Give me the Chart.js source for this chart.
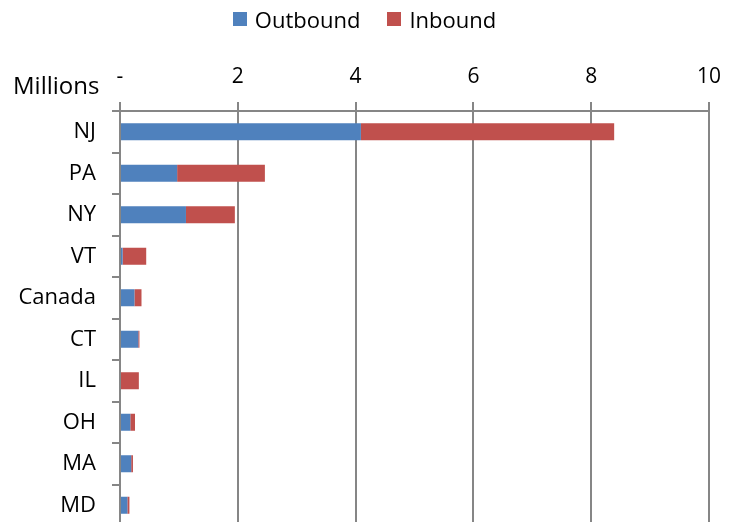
<!DOCTYPE html>
<html>
<head>
<meta charset="utf-8">
<script src="https://cdn.jsdelivr.net/npm/chart.js@4"></script>
<style>
  html, body { margin: 0; padding: 0; background: #fff; overflow: hidden; width: 729px; height: 522px; }
  #wrap { position: relative; width: 729px; height: 530px; }
  #legend { position: absolute; top: 4px; left: 0; width: 729px; display: flex; justify-content: center; gap: 27px;
            font-family: "Open Sans", sans-serif; font-size: 22px; line-height: 30px; color: #000; }
  .item { display: flex; align-items: center; gap: 8px; }
  .box { width: 14px; height: 14px; display: inline-block; }
</style>
</head>
<body>
<div id="wrap">
  <canvas id="c" width="729" height="530"></canvas>
  <div id="legend"></div>
</div>
<script>
const categories = ["NJ", "PA", "NY", "VT", "Canada", "CT", "IL", "OH", "MA", "MD"];
const outbound = [4.09, 0.97, 1.12, 0.045, 0.245, 0.31, 0.0, 0.175, 0.19, 0.125];
const inbound = [4.30, 1.49, 0.83, 0.40, 0.12, 0.02, 0.32, 0.08, 0.03, 0.035];
const seriesNames = ["Outbound", "Inbound"];
const seriesColors = ["#4F81BD", "#C0504D"];
const xTicks = [0, 2, 4, 6, 8, 10];
const axisTitle = "Millions";

const legend = document.getElementById('legend');
seriesNames.forEach((n, i) => {
  const it = document.createElement('span'); it.className = 'item';
  const b = document.createElement('span'); b.className = 'box'; b.style.background = seriesColors[i];
  const t = document.createElement('span'); t.textContent = n;
  it.appendChild(b); it.appendChild(t); legend.appendChild(it);
});

const FONT = "'Open Sans', sans-serif";
const GRID = '#868686';

const millionsPlugin = {
  id: 'millions',
  afterDraw(chart) {
    const ctx = chart.ctx;
    ctx.save();
    ctx.font = "24px " + FONT;
    ctx.fillStyle = '#000';
    ctx.textAlign = 'left';
    ctx.textBaseline = 'middle';
    ctx.fillText(axisTitle, 13, 87);
    ctx.restore();
  }
};

new Chart(document.getElementById('c'), {
  type: 'bar',
  data: {
    labels: categories,
    datasets: [
      { label: seriesNames[0], data: outbound, backgroundColor: seriesColors[0], barPercentage: 0.41, categoryPercentage: 1.0 },
      { label: seriesNames[1], data: inbound, backgroundColor: seriesColors[1], barPercentage: 0.41, categoryPercentage: 1.0 }
    ]
  },
  options: {
    indexAxis: 'y',
    responsive: false,
    animation: false,
    layout: { padding: { top: 0, right: 20, bottom: 4, left: 0 } },
    plugins: { legend: { display: false }, tooltip: { enabled: false } },
    scales: {
      x: {
        position: 'top',
        stacked: true,
        min: 0, max: 10,
        afterBuildTicks: s => { s.ticks = xTicks.map(v => ({ value: v })); },
        afterFit: s => { s.height = 111; s.paddingRight = 0; s.paddingLeft = 0; },
        ticks: {
          color: '#000',
          font: { family: FONT, size: 21 },
          padding: 12,
          maxRotation: 0,
          callback: v => v === 0 ? '-' : String(v)
        },
        grid: { color: GRID, lineWidth: 2, tickLength: 9, drawOnChartArea: true },
        border: { color: GRID, width: 2 }
      },
      y: {
        stacked: true,
        afterFit: s => { s.width = 120; s.paddingTop = 0; s.paddingBottom = 0; },
        ticks: { color: '#000', font: { family: FONT, size: 22 }, padding: 16 },
        grid: { offset: true, drawOnChartArea: false, drawTicks: true, tickLength: 8, color: GRID, lineWidth: 2 },
        border: { color: GRID, width: 2 }
      }
    }
  },
  plugins: [millionsPlugin]
});
</script>
</body>
</html>
